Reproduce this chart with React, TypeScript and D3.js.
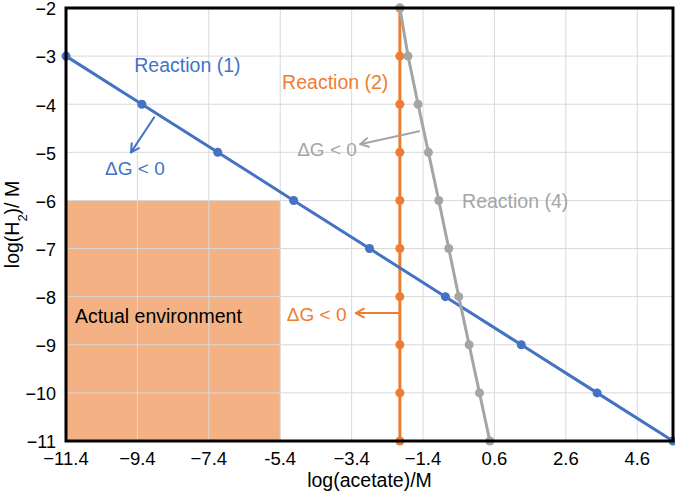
import React from "react";
import * as d3 from "d3";

// ---- data ----
const xTicks = [-11.4, -9.4, -7.4, -5.4, -3.4, -1.4, 0.6, 2.6, 4.6];
const xTickLabels = ["\u221211.4", "\u22129.4", "\u22127.4", "-5.4", "\u22123.4", "\u22121.4", "0.6", "2.6", "4.6"];
const yTicks = [-2, -3, -4, -5, -6, -7, -8, -9, -10, -11];
const yTickLabels = ["\u22122", "\u22123", "\u22124", "\u22125", "\u22126", "\u22127", "\u22128", "\u22129", "\u221210", "\u221211"];

// Reaction (1)
const r1X = [-11.4, -9.275, -7.15, -5.025, -2.9, -0.775, 1.35, 3.475, 5.6];
const r1Y = [-3, -4, -5, -6, -7, -8, -9, -10, -11];
// Reaction (2)
const r2X = [-2.05, -2.05, -2.05, -2.05, -2.05, -2.05, -2.05, -2.05, -2.05, -2.05];
const r2Y = [-2, -3, -4, -5, -6, -7, -8, -9, -10, -11];
// Reaction (4)
const r4X = [-2.05, -1.82, -1.54, -1.25, -0.96, -0.68, -0.4, -0.11, 0.18, 0.47];
const r4Y = [-2, -3, -4, -5, -6, -7, -8, -9, -10, -11];

// Actual environment box
const envX = [-11.4, -5.4];
const envY = [-11, -6];

const C_BLUE = "#4472C4";
const C_ORANGE = "#ED7D31";
const C_GRAY = "#A5A5A5";
const C_ENV = "#F4B183";

const W = 675;
const H = 498;
const FONT = "'Liberation Sans', Arial, Helvetica, sans-serif";

const x = d3.scaleLinear().domain([-11.4, 5.6]).range([66, 673]);
const y = d3.scaleLinear().domain([-11, -2]).range([441, 8]);

function Arrow({ x1, y1, x2, y2, color }: { x1: number; y1: number; x2: number; y2: number; color: string }) {
  const px1 = x(x1), py1 = y(y1), px2 = x(x2), py2 = y(y2);
  const a = Math.atan2(py2 - py1, px2 - px1);
  const L = 9, s = 0.5;
  const h1 = [px2 - L * Math.cos(a - s), py2 - L * Math.sin(a - s)];
  const h2 = [px2 - L * Math.cos(a + s), py2 - L * Math.sin(a + s)];
  return (
    <g stroke={color} strokeWidth={2} fill="none" strokeLinecap="round" strokeLinejoin="round">
      <line x1={px1} y1={py1} x2={px2} y2={py2} />
      <polyline points={`${h1[0]},${h1[1]} ${px2},${py2} ${h2[0]},${h2[1]}`} />
    </g>
  );
}

function Series({ xs, ys, color }: { xs: number[]; ys: number[]; color: string }) {
  const pts = xs.map((v, i) => [v, ys[i]] as [number, number]);
  const line = d3.line<[number, number]>().x((d) => x(d[0])).y((d) => y(d[1]));
  return (
    <g>
      <path d={line(pts) || ""} fill="none" stroke={color} strokeWidth={3} />
      {pts.map((d, i) => (
        <circle key={i} cx={x(d[0])} cy={y(d[1])} r={4.5} fill={color} />
      ))}
    </g>
  );
}

export default function App() {
  const [x0, x1] = x.range();
  const [y0, y1] = [y(-2), y(-11)];
  return (
    <svg width={W} height={H} style={{ position: "fixed", left: 0, top: 0, background: "#fff" }} fontFamily={FONT}>
      <rect x={0} y={0} width={W} height={H} fill="#fff" />
      {/* environment box */}
      <rect x={x(envX[0])} y={y(envY[1])} width={x(envX[1]) - x(envX[0])} height={y(envY[0]) - y(envY[1])} fill={C_ENV} />
      {/* grid */}
      <g stroke="#d9d9d9" strokeWidth={1}>
        {xTicks.map((t, i) => (
          <line key={"gx" + i} x1={x(t)} x2={x(t)} y1={y0} y2={y1} />
        ))}
        {yTicks.map((t, i) => (
          <line key={"gy" + i} x1={x0} x2={x1} y1={y(t)} y2={y(t)} />
        ))}
      </g>
      <text x={x(-11.15)} y={y(-8.4)} dy="0.35em" fontSize={19.5} fill="#000">Actual environment</text>

      <Series xs={r2X} ys={r2Y} color={C_ORANGE} />
      <Series xs={r1X} ys={r1Y} color={C_BLUE} />
      <Series xs={r4X} ys={r4Y} color={C_GRAY} />

      {/* annotations */}
      <text x={x(-8.0)} y={y(-3.18)} dy="0.35em" textAnchor="middle" fontSize={19.5} fill={C_BLUE}>Reaction (1)</text>
      <text x={x(-9.47)} y={y(-5.33)} dy="0.35em" textAnchor="middle" fontSize={19} fill={C_BLUE}>ΔG &lt; 0</text>
      <Arrow x1={-8.93} y1={-4.27} x2={-9.58} y2={-5.0} color={C_BLUE} />

      <text x={x(-3.86)} y={y(-3.54)} dy="0.35em" textAnchor="middle" fontSize={19.5} fill={C_ORANGE}>Reaction (2)</text>
      <text x={x(-4.38)} y={y(-8.36)} dy="0.35em" textAnchor="middle" fontSize={19} fill={C_ORANGE}>ΔG &lt; 0</text>
      <Arrow x1={-2.05} y1={-8.34} x2={-3.28} y2={-8.34} color={C_ORANGE} />

      <text x={x(1.18)} y={y(-6.01)} dy="0.35em" textAnchor="middle" fontSize={19.5} fill={C_GRAY}>Reaction (4)</text>
      <text x={x(-4.09)} y={y(-4.93)} dy="0.35em" textAnchor="middle" fontSize={19} fill={C_GRAY}>ΔG &lt; 0</text>
      <Arrow x1={-1.51} y1={-4.56} x2={-3.16} y2={-4.83} color={C_GRAY} />

      {/* frame */}
      <rect x={x0} y={y0} width={x1 - x0} height={y1 - y0} fill="none" stroke="#000" strokeWidth={3} />

      {/* tick labels */}
      {xTicks.map((t, i) => (
        <text key={"tx" + i} x={x(t)} y={y1 + 11} dy="0.71em" textAnchor="middle" fontSize={18.5} fill="#000">
          {xTickLabels[i]}
        </text>
      ))}
      {yTicks.map((t, i) => (
        <text key={"ty" + i} x={56} y={y(t) + 1} dy="0.35em" textAnchor="end" fontSize={18} fill="#000">
          {yTickLabels[i]}
        </text>
      ))}
      {/* axis titles */}
      <text x={(x0 + x1) / 2} y={487} textAnchor="middle" fontSize={19.5} fill="#000">log(acetate)/M</text>
      <text transform={`translate(19, ${(y0 + y1) / 2}) rotate(-90)`} textAnchor="middle" fontSize={19.5} fill="#000">
        log(H<tspan baselineShift="sub" fontSize={13}>2</tspan>)/ M
      </text>
    </svg>
  );
}
